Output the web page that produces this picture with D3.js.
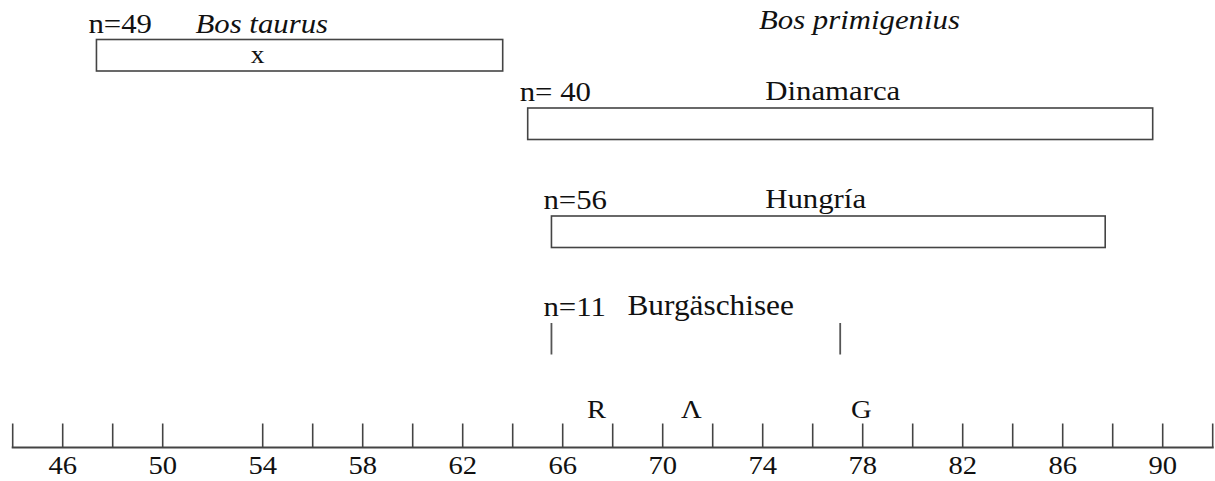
<!DOCTYPE html>
<html>
<head>
<meta charset="utf-8">
<script src="https://cdn.jsdelivr.net/npm/d3@7"></script>
<style>
  body { margin: 0; background: #fff; }
</style>
</head>
<body>
<svg id="chart" width="1215" height="481"></svg>
<script>
// ranges of values per sample
const groups = ['Bos taurus', 'Dinamarca', 'Hungría', 'Burgäschisee']
const nLabels = ['n=49', 'n= 40', 'n=56', 'n=11']
const rangeMin = [47.35, 64.6, 65.55, 65.55]
const rangeMax = [63.6, 89.6, 87.7, 77.1]
const taurusMean = 53.8

// reference marks above the axis
const markLabels = ['R', 'Λ', 'G']
const markValues = [67.35, 71.15, 77.95]

// axis
const tickValues = [44, 46, 48, 50, 54, 56, 58, 60, 62, 64, 66, 68, 70, 72, 74, 76, 78, 80, 82, 84, 86, 88, 90, 92]
const tickLabels = [46, 50, 54, 58, 62, 66, 70, 74, 78, 82, 86, 90]

const svg = d3.select('#chart')
const stroke = '#444'
const serif = '"Liberation Serif", "Times New Roman", "DejaVu Serif", serif'
const stretch = 1.1

// the scanned figure is a bit wider than plain Times
function place(sel, fx, fy) {
    return sel.attr('transform', (d, i) => 'translate(' + fx(d, i) + ',' + fy(d, i) + ') scale(' + stretch + ',1)')
        .attr('font-family', serif)
        .attr('fill', '#111')
}

const x = d3.scaleLinear()
    .domain([44, 92])
    .range([12.7, 1212.7])

// row tops
const y = d3.scaleOrdinal()
    .domain(groups)
    .range([39.5, 108, 216, 323])

const barH = 31.5
const data = groups.map((g, i) => ({ group: g, n: nLabels[i], lo: rangeMin[i], hi: rangeMax[i] }))

// boxes (first three rows)
svg.append('g').selectAll('rect')
    .data(data.slice(0, 3))
    .enter()
    .append('rect')
    .attr('x', d => x(d.lo))
    .attr('y', d => y(d.group))
    .attr('width', d => x(d.hi) - x(d.lo))
    .attr('height', barH)
    .attr('fill', 'none')
    .attr('stroke', stroke)
    .attr('stroke-width', 1.6)

// Burgäschisee: only the two end strokes
const last = data[3]
svg.append('g').selectAll('line')
    .data([last.lo, last.hi])
    .enter()
    .append('line')
    .attr('x1', d => x(d))
    .attr('x2', d => x(d))
    .attr('y1', y(last.group))
    .attr('y2', y(last.group) + barH)
    .attr('stroke', '#555')
    .attr('stroke-width', 1.8)

// n= labels
svg.append('g').selectAll('text')
    .data(data)
    .enter()
    .append('text')
    .call(place, d => x(d.lo) - 8, d => y(d.group) - 7)
    .attr('font-size', 28)
    .text(d => d.n)

// group names
const nameAt = 74.1
svg.append('g').selectAll('text')
    .data([groups[0]])
    .enter()
    .append('text')
    .call(place, () => x(data[0].lo) + 99, () => y(groups[0]) - 7)
    .attr('font-size', 28)
    .attr('font-style', 'italic')
    .text(d => d)

svg.append('g').selectAll('text')
    .data(['Bos primigenius'])
    .enter()
    .append('text')
    .call(place, () => x(73.85), () => 29)
    .attr('font-size', 28)
    .attr('font-style', 'italic')
    .text(d => d)

svg.append('g').selectAll('text')
    .data(data.slice(1, 3))
    .enter()
    .append('text')
    .call(place, () => x(nameAt), d => y(d.group) - 8)
    .attr('font-size', 28)
    .text(d => d.group)

svg.append('g').selectAll('text')
    .data([last])
    .enter()
    .append('text')
    .call(place, d => x(d.lo) + 76, d => y(d.group) - 8)
    .attr('font-size', 28.5)
    .text(d => d.group)

// mean mark
svg.append('g').selectAll('text')
    .data([taurusMean])
    .enter()
    .append('text')
    .call(place, d => x(d), () => y(groups[0]) + 23)
    .attr('text-anchor', 'middle')
    .attr('font-size', 25)
    .text('x')

// axis
const axisY = 447.5
const axis = svg.append('g')
    .attr('transform', 'translate(0,' + axisY + ')')

axis.append('line')
    .attr('x1', x(44) - 1)
    .attr('x2', x(92) + 1)
    .attr('stroke', stroke)
    .attr('stroke-width', 2)

axis.selectAll('.tick')
    .data(tickValues)
    .enter()
    .append('line')
    .attr('class', 'tick')
    .attr('x1', d => x(d))
    .attr('x2', d => x(d))
    .attr('y1', 0)
    .attr('y2', -24)
    .attr('stroke', stroke)
    .attr('stroke-width', 1.6)

axis.selectAll('.lbl')
    .data(tickLabels)
    .enter()
    .append('text')
    .attr('class', 'lbl')
    .call(place, d => x(d), () => 26)
    .attr('text-anchor', 'middle')
    .attr('font-size', 26)
    .text(d => d)

svg.append('g').selectAll('text')
    .data(markValues)
    .enter()
    .append('text')
    .call(place, d => x(d), () => 418)
    .attr('text-anchor', 'middle')
    .attr('font-size', 26)
    .text((d, i) => markLabels[i])
</script>
</body>
</html>
